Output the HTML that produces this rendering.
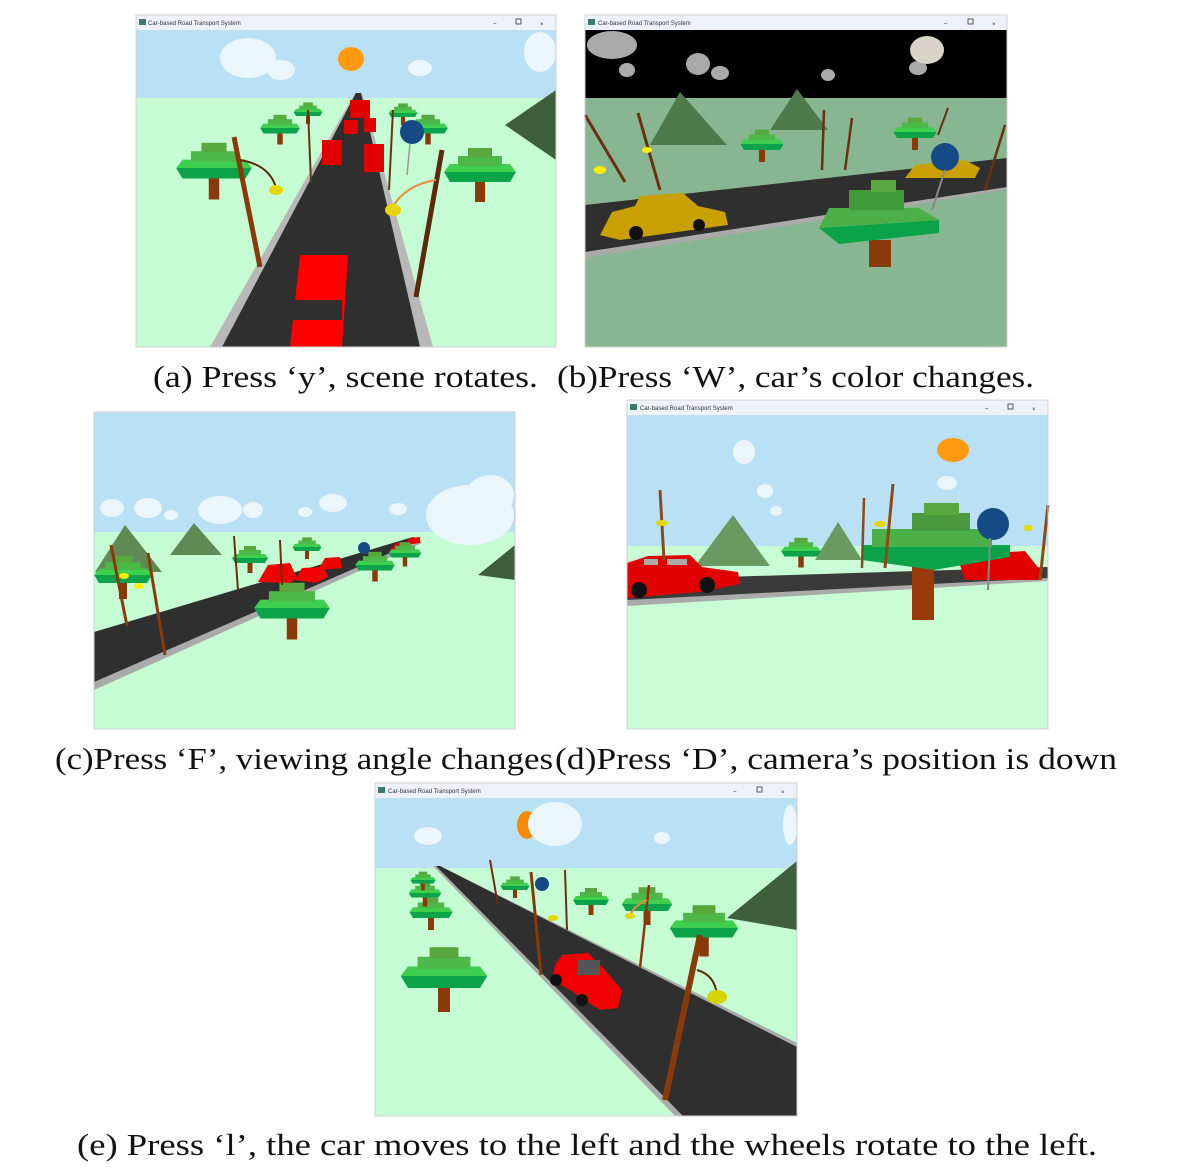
<!DOCTYPE html>
<html><head><meta charset="utf-8"><style>
html,body{margin:0;padding:0;background:#fff;}
svg{display:block;}
.cap{font-family:"Liberation Serif",serif;font-size:31px;fill:#111;}
.tt{font-family:"Liberation Sans",sans-serif;font-size:6px;fill:#333;}
</style></head><body>
<svg width="1190" height="1176" viewBox="0 0 1190 1176" xmlns="http://www.w3.org/2000/svg">
<defs>
<g id="tree">
 <rect x="-5" y="8" width="10" height="22" fill="#8a3a0a"/>
 <polygon points="-36,0 36,0 30,10 -30,10" fill="#0aa34a"/>
 <polygon points="-30,-8 30,-8 36,0 -36,0" fill="#3fcf4f"/>
 <rect x="-22" y="-16" width="44" height="10" fill="#4cb848"/>
 <rect x="-12" y="-24" width="24" height="9" fill="#58a83e"/>
</g>
</defs>

<!-- ===== Panel A ===== -->
<rect x="136" y="15" width="420" height="15" fill="#eef2f8"/>
<rect x="139" y="19" width="7" height="6" fill="#3a7a6a"/>
<text class="tt" x="148" y="25">Car-based Road Transport System</text>
<text x="493" y="25" class="tt">–</text><rect x="516" y="19" width="5" height="5" fill="none" stroke="#333" stroke-width="0.8"/><text x="540" y="26" class="tt" font-size="9">×</text>
<rect x="136" y="30" width="420" height="68" fill="#b9e0f5"/>
<rect x="136" y="98" width="420" height="249" fill="#c6fcd4"/>
<g fill="#eaf5fc"><ellipse cx="248" cy="58" rx="28" ry="20"/><ellipse cx="281" cy="70" rx="14" ry="10"/><ellipse cx="420" cy="68" rx="12" ry="8"/><ellipse cx="540" cy="52" rx="16" ry="20"/></g>
<ellipse cx="351" cy="59" rx="13" ry="12" fill="#ff9a10"/>
<polygon points="505,125 556,90 556,160" fill="#3f5f3c"/>
<polygon points="210,347 433,347 362,93 355,93" fill="#b8b8b8"/>
<polygon points="222,347 420,347 361,93 356,93" fill="#2f2f2f"/>
<polygon points="290,347 342,347 348,255 300,255" fill="#ff0000"/>
<rect x="290" y="300" width="52" height="20" fill="#2f2f2f"/>
<rect x="322" y="140" width="20" height="25" fill="#e00000"/><rect x="364" y="144" width="20" height="28" fill="#e00000"/>
<rect x="344" y="120" width="14" height="14" fill="#e00000"/><rect x="364" y="118" width="12" height="14" fill="#e00000"/>
<rect x="350" y="100" width="20" height="18" fill="#e00000"/>
<use href="#tree" transform="translate(214,168) scale(1.05)"/>
<use href="#tree" transform="translate(480,172) scale(1.0)"/>
<use href="#tree" transform="translate(280,128) scale(0.55)"/>
<use href="#tree" transform="translate(428,128) scale(0.55)"/>
<use href="#tree" transform="translate(308,112) scale(0.4)"/>
<use href="#tree" transform="translate(403,113) scale(0.4)"/>
<line x1="234" y1="137" x2="260" y2="267" stroke="#8a3a0a" stroke-width="5"/>
<line x1="442" y1="150" x2="416" y2="297" stroke="#5a2a0a" stroke-width="5"/>
<path d="M240,160 Q270,165 276,188" fill="none" stroke="#5a2a0a" stroke-width="2"/><ellipse cx="276" cy="190" rx="7" ry="5" fill="#e6d600"/>
<path d="M436,180 Q405,185 392,208" fill="none" stroke="#f0883a" stroke-width="2"/><ellipse cx="393" cy="210" rx="8" ry="6" fill="#e6d600"/>
<circle cx="412" cy="132" r="12" fill="#154a85"/><line x1="410" y1="144" x2="407" y2="175" stroke="#999" stroke-width="1.5"/>
<line x1="308" y1="110" x2="311" y2="182" stroke="#6a3010" stroke-width="2"/><line x1="393" y1="110" x2="389" y2="190" stroke="#6a3010" stroke-width="2"/>
<rect x="136" y="15" width="420" height="332" fill="none" stroke="#d0d0d0" stroke-width="1"/>

<!-- ===== Panel B ===== -->
<rect x="585" y="15" width="422" height="15" fill="#eef2f8"/>
<rect x="588" y="19" width="7" height="6" fill="#3a7a6a"/>
<text class="tt" x="598" y="25">Car-based Road Transport System</text>
<text x="944" y="25" class="tt">–</text><rect x="968" y="19" width="5" height="5" fill="none" stroke="#333" stroke-width="0.8"/><text x="992" y="26" class="tt" font-size="9">×</text>
<rect x="585" y="30" width="422" height="68" fill="#000"/>
<rect x="585" y="98" width="422" height="249" fill="#88b692"/>
<g fill="#aaaaaa"><ellipse cx="612" cy="45" rx="25" ry="14"/><ellipse cx="627" cy="70" rx="8" ry="7"/><ellipse cx="698" cy="64" rx="12" ry="11"/><ellipse cx="720" cy="73" rx="9" ry="7"/><ellipse cx="828" cy="75" rx="7" ry="6"/><ellipse cx="918" cy="68" rx="9" ry="7"/></g>
<ellipse cx="927" cy="50" rx="17" ry="14" fill="#d8d4c8"/>
<polygon points="680,92 650,145 727,145" fill="#4f7a4c"/>
<polygon points="797,89 770,130 828,130" fill="#4f7a4c"/>
<polygon points="585,205 1007,158 1007,190 585,255" fill="#2f2f2f"/>
<polygon points="585,252 1007,187 1007,190 585,258" fill="#aaaaaa"/>
<polygon points="600,235 612,212 635,206 640,196 683,193 698,206 725,212 728,225 620,240" fill="#c9a000"/>
<circle cx="636" cy="233" r="7" fill="#111"/><circle cx="699" cy="225" r="6" fill="#111"/>
<polygon points="905,178 915,165 965,160 980,168 975,178" fill="#c9a000"/>
<use href="#tree" transform="translate(762,144) scale(0.6)"/>
<use href="#tree" transform="translate(915,132) scale(0.6)"/>
<g transform="translate(879,228)"><rect x="-10" y="12" width="22" height="27" fill="#8a3a0a"/><polygon points="-60,0 60,-8 60,5 -40,16" fill="#0aa34a"/><polygon points="-50,-20 40,-20 60,-8 -60,0" fill="#4bb047"/><rect x="-30" y="-38" width="55" height="20" fill="#3f9a3a"/><rect x="-8" y="-48" width="25" height="12" fill="#58a83e"/></g>
<circle cx="945" cy="157" r="14" fill="#154a85"/><line x1="945" y1="170" x2="932" y2="210" stroke="#888" stroke-width="2"/>
<line x1="638" y1="113" x2="660" y2="190" stroke="#6a3010" stroke-width="3"/><ellipse cx="647" cy="150" rx="5" ry="3" fill="#ffee00"/>
<line x1="585" y1="115" x2="625" y2="182" stroke="#6a3010" stroke-width="3"/><ellipse cx="600" cy="170" rx="6" ry="4" fill="#ffee00"/>
<line x1="824" y1="110" x2="822" y2="170" stroke="#6a3010" stroke-width="2.5"/><line x1="852" y1="118" x2="845" y2="170" stroke="#6a3010" stroke-width="2.5"/>
<line x1="1005" y1="125" x2="985" y2="190" stroke="#6a3010" stroke-width="2.5"/><line x1="948" y1="108" x2="938" y2="135" stroke="#6a3010" stroke-width="2"/>
<rect x="585" y="15" width="422" height="332" fill="none" stroke="#d0d0d0" stroke-width="1"/>

<text class="cap" x="153" y="387" textLength="385" lengthAdjust="spacingAndGlyphs">(a) Press ‘y’, scene rotates.</text>
<text class="cap" x="557" y="387" textLength="477" lengthAdjust="spacingAndGlyphs">(b)Press ‘W’, car’s color changes.</text>

<!-- ===== Panel C ===== -->
<rect x="94" y="412" width="421" height="120" fill="#b9e0f5"/>
<rect x="94" y="532" width="421" height="197" fill="#c6fcd4"/>
<g fill="#eaf5fc"><ellipse cx="112" cy="508" rx="12" ry="9"/><ellipse cx="148" cy="508" rx="14" ry="10"/><ellipse cx="171" cy="515" rx="7" ry="5"/><ellipse cx="220" cy="510" rx="22" ry="14"/><ellipse cx="253" cy="510" rx="10" ry="8"/><ellipse cx="305" cy="512" rx="7" ry="5"/><ellipse cx="333" cy="503" rx="14" ry="9"/><ellipse cx="398" cy="509" rx="9" ry="6"/><ellipse cx="470" cy="515" rx="44" ry="30"/><ellipse cx="490" cy="495" rx="24" ry="20"/></g>
<polygon points="125,525 95,572 162,572" fill="#5f8a54"/>
<polygon points="194,523 170,555 222,555" fill="#5f8a54"/>
<polygon points="515,545 478,575 515,580" fill="#3f5f3c"/>
<polygon points="94,632 413,537 420,540 94,687" fill="#2f2f2f"/>
<polygon points="94,682 420,540 422,543 94,690" fill="#aaaaaa"/>
<g fill="#f00000"><polygon points="258,582 268,565 290,563 297,578 290,583"/><polygon points="295,580 302,568 324,567 328,577 316,583"/><polygon points="318,570 325,558 340,557 342,568"/><polygon points="390,550 396,543 410,542 410,550"/><polygon points="405,545 410,538 420,537 420,543"/></g>
<use href="#tree" transform="translate(123,575) scale(0.8)"/>
<use href="#tree" transform="translate(250,558) scale(0.5)"/>
<use href="#tree" transform="translate(307,547) scale(0.4)"/>
<use href="#tree" transform="translate(375,565) scale(0.55)"/>
<use href="#tree" transform="translate(405,553) scale(0.45)"/>
<use href="#tree" transform="translate(292,608) scale(1.05)"/>
<line x1="111" y1="545" x2="127" y2="626" stroke="#8a3a0a" stroke-width="3"/>
<line x1="148" y1="553" x2="165" y2="655" stroke="#8a3a0a" stroke-width="3"/>
<ellipse cx="124" cy="576" rx="5" ry="3" fill="#ffee00"/><ellipse cx="139" cy="586" rx="5" ry="3" fill="#ffee00"/>
<line x1="234" y1="536" x2="238" y2="590" stroke="#6a3010" stroke-width="2"/><line x1="280" y1="540" x2="282" y2="585" stroke="#6a3010" stroke-width="2"/>
<circle cx="364" cy="548" r="6" fill="#154a85"/>
<rect x="94" y="412" width="421" height="317" fill="none" stroke="#d0d0d0" stroke-width="1"/>

<!-- ===== Panel D ===== -->
<rect x="627" y="400" width="421" height="15" fill="#eef2f8"/>
<rect x="630" y="404" width="7" height="6" fill="#3a7a6a"/>
<text class="tt" x="640" y="410">Car-based Road Transport System</text>
<text x="985" y="410" class="tt">–</text><rect x="1008" y="404" width="5" height="5" fill="none" stroke="#333" stroke-width="0.8"/><text x="1032" y="411" class="tt" font-size="9">×</text>
<rect x="627" y="415" width="421" height="131" fill="#b9e0f5"/>
<rect x="627" y="546" width="421" height="183" fill="#c9fdd6"/>
<g fill="#eaf5fc"><ellipse cx="744" cy="452" rx="11" ry="12"/><ellipse cx="765" cy="491" rx="8" ry="7"/><ellipse cx="776" cy="511" rx="6" ry="5"/><ellipse cx="947" cy="483" rx="10" ry="7"/></g>
<ellipse cx="953" cy="450" rx="16" ry="12" fill="#ff9a10"/>
<polygon points="733,515 695,566 770,566" fill="#6a9a62"/>
<polygon points="838,522 815,560 862,560" fill="#6a9a62"/>
<polygon points="627,580 1048,567 1048,580 627,603" fill="#3a3a3a"/>
<polygon points="627,600 1048,578 1048,581 627,606" fill="#aaaaaa"/>
<polygon points="627,598 627,563 648,556 690,555 702,567 738,572 740,584 700,592" fill="#e00000"/>
<rect x="644" y="559" width="14" height="6" fill="#aaa"/><rect x="667" y="559" width="20" height="6" fill="#aaa"/>
<circle cx="639" cy="590" r="8" fill="#111"/><circle cx="707" cy="585" r="8" fill="#111"/>
<polygon points="960,565 965,555 1025,551 1040,570 1040,580 965,580" fill="#e00000"/>
<use href="#tree" transform="translate(801,551) scale(0.55)"/>
<g transform="translate(924,555)"><rect x="-12" y="10" width="22" height="55" fill="#9a3a08"/><polygon points="-62,-10 86,-10 86,2 10,15 -62,5" fill="#0aa34a"/><rect x="-52" y="-26" width="120" height="18" fill="#4bb047"/><rect x="-12" y="-42" width="58" height="18" fill="#4b9a40"/><rect x="0" y="-52" width="35" height="12" fill="#58a83e"/></g>
<circle cx="993" cy="524" r="16" fill="#154a85"/><line x1="990" y1="538" x2="988" y2="590" stroke="#888" stroke-width="2"/>
<line x1="660" y1="490" x2="664" y2="560" stroke="#8a4a1a" stroke-width="3"/><ellipse cx="662" cy="523" rx="6" ry="3" fill="#e6d600"/>
<line x1="864" y1="498" x2="862" y2="568" stroke="#8a4a1a" stroke-width="2.5"/><line x1="893" y1="484" x2="885" y2="568" stroke="#8a4a1a" stroke-width="3"/>
<ellipse cx="880" cy="524" rx="6" ry="3" fill="#e6d600"/><ellipse cx="1028" cy="528" rx="5" ry="3" fill="#e6d600"/>
<line x1="1048" y1="505" x2="1040" y2="580" stroke="#8a4a1a" stroke-width="3"/>
<rect x="627" y="400" width="421" height="329" fill="none" stroke="#d0d0d0" stroke-width="1"/>

<text class="cap" x="55" y="769" textLength="498" lengthAdjust="spacingAndGlyphs">(c)Press ‘F’, viewing angle changes</text>
<text class="cap" x="555" y="769" textLength="562" lengthAdjust="spacingAndGlyphs">(d)Press ‘D’, camera’s position is down</text>

<!-- ===== Panel E ===== -->
<rect x="375" y="783" width="422" height="15" fill="#eef2f8"/>
<rect x="378" y="787" width="7" height="6" fill="#3a7a6a"/>
<text class="tt" x="388" y="793">Car-based Road Transport System</text>
<text x="733" y="793" class="tt">–</text><rect x="757" y="787" width="5" height="5" fill="none" stroke="#333" stroke-width="0.8"/><text x="781" y="794" class="tt" font-size="9">×</text>
<rect x="375" y="798" width="422" height="70" fill="#b9e0f5"/>
<rect x="375" y="868" width="422" height="248" fill="#c6fcd4"/>
<ellipse cx="527" cy="825" rx="10" ry="14" fill="#ff8a00"/>
<g fill="#eaf5fc"><ellipse cx="555" cy="824" rx="27" ry="22"/><ellipse cx="428" cy="836" rx="14" ry="9"/><ellipse cx="662" cy="838" rx="8" ry="6"/><ellipse cx="790" cy="825" rx="7" ry="20"/></g>
<polygon points="797,861 727,918 797,930" fill="#3f5f3c"/>
<polygon points="433,866 440,866 797,1043 797,1116 675,1116" fill="#aaaaaa"/>
<polygon points="436,866 440,866 797,1047 797,1116 683,1116" fill="#2f2f2f"/>
<polygon points="555,965 562,955 588,953 605,970 622,990 618,1008 600,1010 570,990 552,980" fill="#f00000"/>
<rect x="578" y="960" width="22" height="15" fill="#555"/>
<circle cx="556" cy="980" r="6" fill="#111"/><circle cx="582" cy="1000" r="6" fill="#111"/>
<use href="#tree" transform="translate(444,976) scale(1.2)"/>
<use href="#tree" transform="translate(431,912) scale(0.6)"/>
<use href="#tree" transform="translate(425,893) scale(0.45)"/>
<use href="#tree" transform="translate(423,880) scale(0.35)"/>
<use href="#tree" transform="translate(591,900) scale(0.5)"/>
<use href="#tree" transform="translate(647,904) scale(0.7)"/>
<use href="#tree" transform="translate(515,886) scale(0.4)"/>
<use href="#tree" transform="translate(704,928) scale(0.95)"/>
<line x1="700" y1="935" x2="665" y2="1100" stroke="#8a3a0a" stroke-width="6"/>
<path d="M697,970 Q715,975 717,995" fill="none" stroke="#5a2a0a" stroke-width="2"/><ellipse cx="717" cy="997" rx="10" ry="7" fill="#d8d400"/>
<line x1="649" y1="885" x2="640" y2="968" stroke="#8a3a0a" stroke-width="2.5"/>
<path d="M647,900 Q635,905 630,915" fill="none" stroke="#f0883a" stroke-width="2"/><ellipse cx="630" cy="916" rx="5" ry="3" fill="#e6d600"/>
<line x1="531" y1="872" x2="541" y2="975" stroke="#8a3a0a" stroke-width="3"/>
<line x1="565" y1="870" x2="567" y2="930" stroke="#6a3010" stroke-width="2"/>
<ellipse cx="553" cy="918" rx="5" ry="3" fill="#e6d600"/>
<circle cx="542" cy="884" r="7" fill="#154a85"/>
<line x1="490" y1="860" x2="498" y2="905" stroke="#6a3010" stroke-width="2"/>
<rect x="375" y="783" width="422" height="333" fill="none" stroke="#d0d0d0" stroke-width="1"/>

<text class="cap" x="77" y="1155" textLength="1020" lengthAdjust="spacingAndGlyphs">(e) Press ‘l’, the car moves to the left and the wheels rotate to the left.</text>
</svg>
</body></html>
